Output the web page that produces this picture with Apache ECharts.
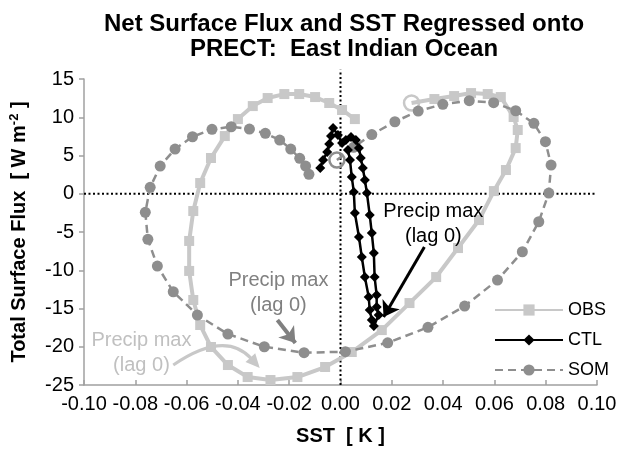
<!DOCTYPE html>
<html><head><meta charset="utf-8">
<script src="https://cdn.jsdelivr.net/npm/echarts@6/dist/echarts.min.js"></script>
<style>html,body{margin:0;padding:0;background:#fff}#c{width:628px;height:451px}</style>
</head><body><div id="c"></div>
<script>
// ---- data (SST [K], Total Surface Flux [W m-2]) ----
const obsX = [0.0277,0.0366,0.0443,0.0509,0.0574,0.0625,0.0675,0.0691,0.0683,0.0645,0.0598,0.0540,0.0458,0.0373,0.0269,0.0161,0.0044,-0.0060,-0.0168,-0.0273,-0.0362,-0.0439,-0.0505,-0.0547,-0.0574,-0.0590,-0.0590,-0.0574,-0.0547,-0.0505,-0.0451,-0.0400,-0.0342,-0.0284,-0.0219,-0.0161,-0.0099,-0.0044,0.0006,0.0056];
const obsY = [11.86,12.38,12.77,13.16,13.03,12.64,10.03,8.33,5.97,3.10,0.35,-3.44,-7.10,-10.89,-14.29,-17.82,-20.69,-22.65,-23.96,-24.35,-23.96,-22.39,-20.03,-17.16,-13.89,-10.09,-6.17,-2.26,1.40,4.67,7.54,9.76,11.46,12.51,13.03,13.03,12.64,11.86,10.95,9.76];
const ctlX = [-0.0079,-0.0068,-0.0052,-0.0044,-0.0037,-0.0029,-0.0010,0.0006,0.0021,0.0041,0.0060,0.0072,0.0079,0.0087,0.0095,0.0103,0.0114,0.0122,0.0130,0.0133,0.0141,0.0141,0.0149,0.0130,0.0122,0.0114,0.0110,0.0095,0.0083,0.0072,0.0056,0.0052,0.0044,0.0037,0.0029];
const ctlY = [3.36,4.41,5.45,6.50,7.54,8.59,7.67,6.63,7.02,7.41,7.02,5.97,4.67,3.36,1.79,0.09,-2.78,-5.14,-7.75,-10.89,-13.24,-14.81,-15.86,-17.29,-16.50,-15.20,-13.50,-10.89,-8.27,-5.66,-2.52,0.22,2.18,4.41,5.71];
const somX = [-0.0014,0.0051,0.0122,0.0212,0.0303,0.0399,0.0502,0.0597,0.0683,0.0754,0.0799,0.0821,0.0812,0.0773,0.0709,0.0612,0.0484,0.0341,0.0184,0.0019,-0.0142,-0.0297,-0.0439,-0.0558,-0.0652,-0.0714,-0.0751,-0.0761,-0.0742,-0.0703,-0.0645,-0.0577,-0.0501,-0.0426,-0.0355,-0.0293,-0.0237,-0.0194,-0.0159,-0.0136,-0.0123];
const somY = [4.41,6.07,7.74,9.41,10.81,11.69,12.16,11.90,10.85,9.20,6.80,3.75,0.09,-3.66,-7.58,-11.28,-14.68,-17.46,-19.48,-20.65,-20.78,-20.00,-18.34,-15.86,-12.81,-9.45,-5.96,-2.43,0.84,3.62,5.84,7.45,8.42,8.76,8.46,7.90,7.02,5.84,4.63,3.62,2.54];
const seriesNames = ['OBS','CTL','SOM'];
const xTicks = ['-0.10','-0.08','-0.06','-0.04','-0.02','0.00','0.02','0.04','0.06','0.08','0.10'];
const yTicks = [-25,-20,-15,-10,-5,0,5,10,15];
// reference lines: vertical at SST=0 (from y=-25 up to 16.2), horizontal at flux=0
const refV = [0, -25, 16.2];
const refH = [0, -0.1, 0.1];
// annotations: [textX, textY, arrowFromX, arrowFromY, arrowToX, arrowToY]
const annCTL = [0.0362,-3.95, 0.0327,-6.97, 0.0168,-16.12];
const annSOM = [-0.0242,-13.0, -0.0246,-16.51, -0.0176,-19.52];
const annOBS = [-0.0776,-20.85, -0.0652,-22.39, -0.0315,-22.78];
const annOBSBend = [-0.0449, -17.75];   // control point of the curved arrow
const annText = 'Precip max\n(lag 0)';

const cOBS = '#c8c8c8', cCTL = '#000000', cSOM = '#8e8e8e';
const FONT = '"Liberation Sans", Arial, Helvetica, sans-serif';

function pts(xs, ys, startColor) {
  return xs.map((x, i) => {
    if (i === 0 && startColor) {
      return {value: [x, ys[i]], symbol: 'circle', symbolSize: 15,
        itemStyle: {color: 'rgba(255,255,255,0)', borderColor: startColor, borderWidth: 2.5}};
    }
    return [x, ys[i]];
  });
}
function arrowSeries(name, a, color, width) {
  return {
    name: name, type: 'line', data: [], z: 5, silent: true,
    markLine: {
      silent: true, symbol: ['none', 'arrow'], symbolSize: 15, label: {show: false},
      lineStyle: {color: color, width: width, type: 'solid'},
      emphasis: {disabled: true},
      data: [[{coord: [a[2], a[3]]}, {coord: [a[4], a[5]]}]]
    }
  };
}

const chart = echarts.init(document.getElementById('c'), null, {renderer: 'canvas'});
const option = {
  animation: false,
  backgroundColor: '#fff',
  textStyle: {fontFamily: FONT},
  title: {
    text: 'Net Surface Flux and SST Regressed onto\nPRECT:  East Indian Ocean',
    left: 339, top: 7, textAlign: 'center',
    textStyle: {fontFamily: FONT, fontSize: 24, fontWeight: 'bold', color: '#000', lineHeight: 25}
  },
  grid: {left: 80, right: 31, top: 79, bottom: 66, containLabel: false},
  legend: {
    data: seriesNames, orient: 'vertical', left: 489, top: 296,
    itemWidth: 68, itemHeight: 14, itemGap: 12,
    textStyle: {fontFamily: FONT, fontSize: 18, color: '#000'},
    selectedMode: false
  },
  xAxis: {
    type: 'value', min: -0.1, max: 0.1, interval: 0.02,
    splitLine: {show: false},
    axisLine: {onZero: false, lineStyle: {color: '#a0a0a0', width: 1.5}},
    axisTick: {inside: true, length: 5, lineStyle: {color: '#a0a0a0', width: 1.5}},
    axisLabel: {fontFamily: FONT, fontSize: 20, color: '#000', margin: 9,
      formatter: (v) => xTicks[Math.round((v + 0.1) / 0.02)]},
    name: 'SST  [ K ]', nameLocation: 'middle', nameGap: 41,
    nameTextStyle: {fontFamily: FONT, fontSize: 20, fontWeight: 'bold', color: '#000'}
  },
  yAxis: {
    type: 'value', min: yTicks[0], max: yTicks[yTicks.length - 1], interval: 5,
    splitLine: {show: false},
    axisLine: {onZero: false, lineStyle: {color: '#a0a0a0', width: 1.5}},
    axisTick: {inside: false, length: 5, lineStyle: {color: '#a0a0a0', width: 1.5}},
    axisLabel: {fontFamily: FONT, fontSize: 20, color: '#000', margin: 10},
    name: '{a|Total Surface Flux  [ W m}{s|-2}{a| ]}', nameLocation: 'middle', nameGap: 54,
    nameTextStyle: {fontFamily: FONT, color: '#000',
      rich: {a: {fontFamily: FONT, fontSize: 20, fontWeight: 'bold', color: '#000', lineHeight: 22},
             s: {fontFamily: FONT, fontSize: 13, fontWeight: 'bold', color: '#000', lineHeight: 22, verticalAlign: 'top', padding: [0, 0, 7, 0]}}}
  },
  series: [
    {
      name: 'OBS', type: 'line', data: pts(obsX, obsY, cOBS), z: 2,
      symbol: 'rect', symbolSize: 10, showSymbol: true,
      lineStyle: {color: cOBS, width: 4}, itemStyle: {color: cOBS},
      emphasis: {disabled: true}, silent: true
    },
    {
      name: 'SOM', type: 'line', data: pts(somX, somY, cSOM), z: 3,
      symbol: 'circle', symbolSize: 11,
      lineStyle: {color: cSOM, width: 2.5, type: [8, 5]}, itemStyle: {color: cSOM},
      emphasis: {disabled: true}, silent: true
    },
    {
      name: 'CTL', type: 'line', data: pts(ctlX, ctlY, null), z: 4,
      symbol: 'diamond', symbolSize: 10,
      lineStyle: {color: cCTL, width: 2.5}, itemStyle: {color: cCTL},
      emphasis: {disabled: true}, silent: true
    },
    arrowSeries('arrowCTL', annCTL, '#000', 3),
    arrowSeries('arrowSOM', annSOM, '#808080', 4)
  ]
};
chart.setOption(option);

function px(x, y) { return chart.convertToPixel({gridIndex: 0}, [x, y]); }
function annLabel(a, color) {
  const p = px(a[0], a[1]);
  return {type: 'text', x: p[0], y: p[1], z: 100, silent: true,
    style: {text: annText, fill: color, font: '20px ' + FONT, textAlign: 'center', textVerticalAlign: 'middle', lineHeight: 25}};
}
function curvedArrow(a, bend, color, width) {
  const s = px(a[2], a[3]), e = px(a[4], a[5]), c = px(bend[0], bend[1]);
  let dx = e[0] - c[0], dy = e[1] - c[1];
  const len = Math.hypot(dx, dy); dx /= len; dy /= len;
  const L = 14, W = 6.5;
  const b = [e[0] - dx * L, e[1] - dy * L];
  const nx = -dy, ny = dx;
  return [
    {type: 'bezierCurve', z: 5, silent: true,
      shape: {x1: s[0], y1: s[1], cpx1: c[0], cpy1: c[1], x2: b[0] + dx * 2, y2: b[1] + dy * 2},
      style: {stroke: color, lineWidth: width, fill: null}},
    {type: 'polygon', z: 5, silent: true,
      shape: {points: [e, [b[0] + nx * W, b[1] + ny * W], [b[0] - nx * W, b[1] - ny * W]]},
      style: {fill: color}}
  ];
}
const v1 = px(refV[0], refV[1]), v2 = px(refV[0], refV[2]);
const h1 = px(refH[1], refH[0]), h2 = px(refH[2], refH[0]);
const dotted = {stroke: '#000', lineWidth: 2, lineDash: [2, 2.5]};
chart.setOption({graphic: [
  {type: 'line', z: 1, silent: true, shape: {x1: v1[0], y1: v1[1], x2: v2[0], y2: v2[1]}, style: dotted},
  {type: 'line', z: 1, silent: true, shape: {x1: h1[0], y1: h1[1], x2: h2[0], y2: h2[1]}, style: dotted},
  ...curvedArrow(annOBS, annOBSBend, '#c8c8c8', 3),
  annLabel(annCTL, '#000'), annLabel(annSOM, '#808080'), annLabel(annOBS, '#c0c0c0')
]});
</script>
</body></html>
